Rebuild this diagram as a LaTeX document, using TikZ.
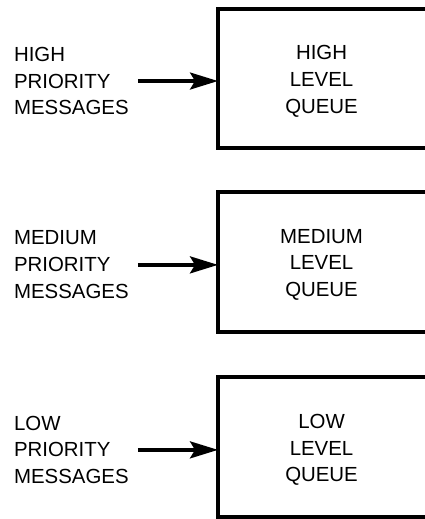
\documentclass[tikz,border=0pt]{standalone}
\usepackage{fontspec}
\setmainfont{Liberation Sans}
\usetikzlibrary{arrows.meta, positioning}

\begin{document}
\begin{tikzpicture}[
    >=Stealth,
    queue/.style={minimum width=7.3cm, minimum height=4.9cm, align=center,
                  font=\fontsize{20.5}{27}\selectfont},
    msg/.style={anchor=west, align=left, inner sep=0pt,
                font=\fontsize{20.5}{27}\selectfont},
    feed/.style={line width=3.6pt, shorten <=9pt,
                 -{Stealth[length=28pt, width=17pt, inset=5pt]}}
  ]
  \useasboundingbox (0,0) rectangle (15,-18.32);
  % One row per priority level
  \foreach \lvl/\y in {HIGH/-2.76, MEDIUM/-9.25, LOW/-15.78} {
    \node[queue] (q\lvl) at (11.35,\y-0.1) {\lvl\\LEVEL\\QUEUE};
    \draw[line width=4pt] ([yshift=1mm]q\lvl.north east)
      -| ([yshift=1mm]q\lvl.south west) -- ([yshift=1mm]q\lvl.south east);
    \node[msg] (m\lvl) at (0.49,\y-0.1) {\lvl\\PRIORITY\\MESSAGES};
    \draw[feed] (m\lvl.east) -- (q\lvl.west);
  }
\end{tikzpicture}
\end{document}
